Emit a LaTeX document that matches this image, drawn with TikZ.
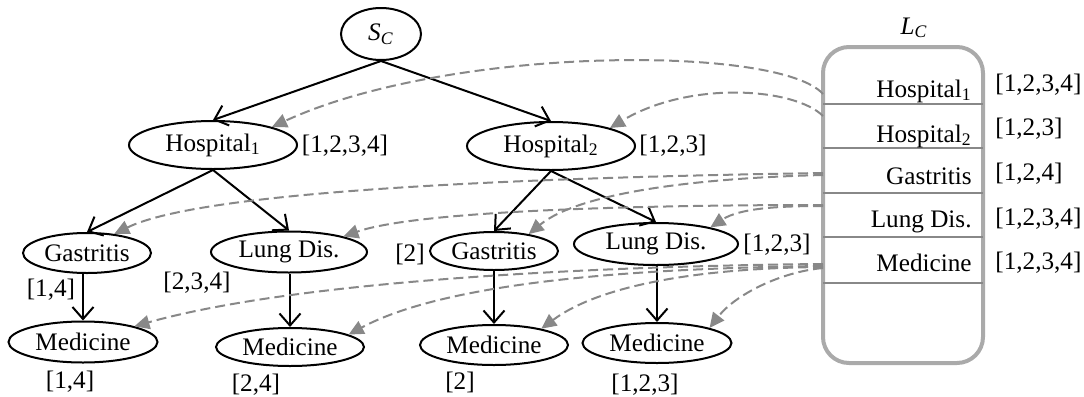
\documentclass[tikz,border=0pt]{standalone}
\usepackage{fontspec}
\setmainfont{Liberation Serif}
\usetikzlibrary{arrows.meta,shapes.geometric}
\definecolor{refgray}{HTML}{888888}
\definecolor{boxgray}{HTML}{AAAAAA}
\definecolor{rulegray}{HTML}{888888}
\begin{document}
\begin{tikzpicture}[x=0.5pt,y=-0.5pt,
  every node/.style={font=\fontsize{12.6}{15}\selectfont},
  tnode/.style={draw, ellipse, line width=1pt, inner sep=0pt},
  tag/.style={inner sep=0pt},
  tedge/.style={line width=1pt, -{Straight Barb[length=6pt,width=10.5pt,line width=1pt]}},
  refedge/.style={draw=refgray, line width=1pt, dash pattern=on 5pt off 2.5pt,
    -{Triangle[length=7.5pt,width=7pt,fill=refgray]}},
  rowline/.style={draw=rulegray, line width=0.8pt}
]
\useasboundingbox (0,0) rectangle (1084,397);

% ---- tree of the collection ----
\node[tnode, minimum width=40pt, minimum height=26pt] (sc) at (381,34) {\textit{S}\textsubscript{\textit{C}}};
\node[tnode, minimum width=84pt, minimum height=24pt] (h1) at (213,145) {Hospital\textsubscript{1}};
\node[tnode, minimum width=84pt, minimum height=24pt] (h2) at (551,146) {Hospital\textsubscript{2}};
\node[tnode, minimum width=64pt, minimum height=20pt] (g1) at (87,253) {Gastritis};
\node[tnode, minimum width=78pt, minimum height=20.5pt] (l1) at (289,252) {Lung Dis.};
\node[tnode, minimum width=64pt, minimum height=19pt] (g2) at (494,251) {Gastritis};
\node[tnode, minimum width=82pt, minimum height=21pt] (l2) at (656,244) {Lung Dis.};
\node[tnode, minimum width=74.5pt, minimum height=20.5pt] (m1) at (83,342) {Medicine};
\node[tnode, minimum width=74pt, minimum height=19pt] (m2) at (290,347) {Medicine};
\node[tnode, minimum width=74pt, minimum height=20pt] (m3) at (494,345) {Medicine};
\node[tnode, minimum width=74.5pt, minimum height=20pt] (m4) at (657,343) {Medicine};

\draw[tedge] (sc.south) -- (h1.north);
\draw[tedge] (sc.south) -- (h2.north);
\draw[tedge] (h1.south) -- (g1.north);
\draw[tedge] (h1.south) -- (l1.north);
\draw[tedge] (h2.south) -- (g2.north);
\draw[tedge] (h2.south) -- (l2.north);
\draw[tedge] (m1.north |- g1.south) -- (m1.north);
\draw[tedge] (m2.north |- l1.south) -- (m2.north);
\draw[tedge] (m3.north |- g2.south) -- (m3.north);
\draw[tedge] (m4.north |- l2.south) -- (m4.north);

% document lists of the nodes
\node[tag] (h1t) at (345,146) {[1,2,3,4]};
\node[tag] (h2t) at (673,146) {[1,2,3]};
\node[tag] (g1t) at (51,290) {[1,4]};
\node[tag] (l1t) at (197,283) {[2,3,4]};
\node[tag] (g2t) at (410,254) {[2]};
\node[tag] (l2t) at (777,245) {[1,2,3]};
\node[tag] (m1t) at (70,382) {[1,4]};
\node[tag] (m2t) at (256,385) {[2,4]};
\node[tag] (m3t) at (460,382) {[2]};
\node[tag] (m4t) at (645,385) {[1,2,3]};

% ---- label list L_C ----
\node[draw=boxgray, line width=2pt, rounded corners=13pt, minimum width=80pt,
      minimum height=158pt, inner sep=0pt] (lc) at (903,205) {};
\node[tag] (lct) at (914,28) {\textit{L}\textsubscript{\textit{C}}};
\foreach \y in {104,148,193,237,283}
  \draw[rowline] (823,\y) -- (983,\y);

\node[tag, anchor=base east] (r1) at (972,97) {Hospital\textsubscript{1}};
\node[tag, anchor=base east] (r2) at (972,142) {Hospital\textsubscript{2}};
\node[tag, anchor=base east] (r3) at (972,184) {Gastritis};
\node[tag, anchor=base east] (r4) at (972,227) {Lung Dis.};
\node[tag, anchor=base east] (r5) at (972,271) {Medicine};

\node[tag, anchor=base west] (r1t) at (995,91) {[1,2,3,4]};
\node[tag, anchor=base west] (r2t) at (995,135) {[1,2,3]};
\node[tag, anchor=base west] (r3t) at (995,180) {[1,2,4]};
\node[tag, anchor=base west] (r4t) at (995,225) {[1,2,3,4]};
\node[tag, anchor=base west] (r5t) at (995,269) {[1,2,3,4]};

% exits of the references on the left side of the list
\coordinate (x1) at (823,94);
\coordinate (x2) at (823,116);
\coordinate (x3) at (823,173);
\coordinate (x4) at (823,175);
\coordinate (x5) at (823,205);
\coordinate (x6) at (823,206);
\coordinate (x7) at (823,264);
\coordinate (x8) at (823,266);
\coordinate (x9) at (823,267);
\coordinate (x10) at (823,268);

% references from list entries to tree nodes
\draw[refedge] (x1) .. controls (780,45) and (450,45) .. (h1.17);
\draw[refedge] (x2) .. controls (795,88) and (690,80) .. (h2.17);
\draw[refedge] (x3) .. controls (500,178) and (200,192) .. (g1.35);
\draw[refedge] (x4) .. controls (700,178) and (580,192) .. (g2.26);
\draw[refedge] (x5) .. controls (650,205) and (420,210) .. (l1.16);
\draw[refedge] (x6) .. controls (780,206) and (740,208) .. (l2.17);
\draw[refedge] (x7) .. controls (600,266) and (300,280) .. (m1.17);
\draw[refedge] (x8) .. controls (650,268) and (450,280) .. (m2.12);
\draw[refedge] (x9) .. controls (700,268) and (600,285) .. (m3.19);
\draw[refedge] (x10) .. controls (780,272) and (735,295) .. (m4.16);
\end{tikzpicture}
\end{document}
